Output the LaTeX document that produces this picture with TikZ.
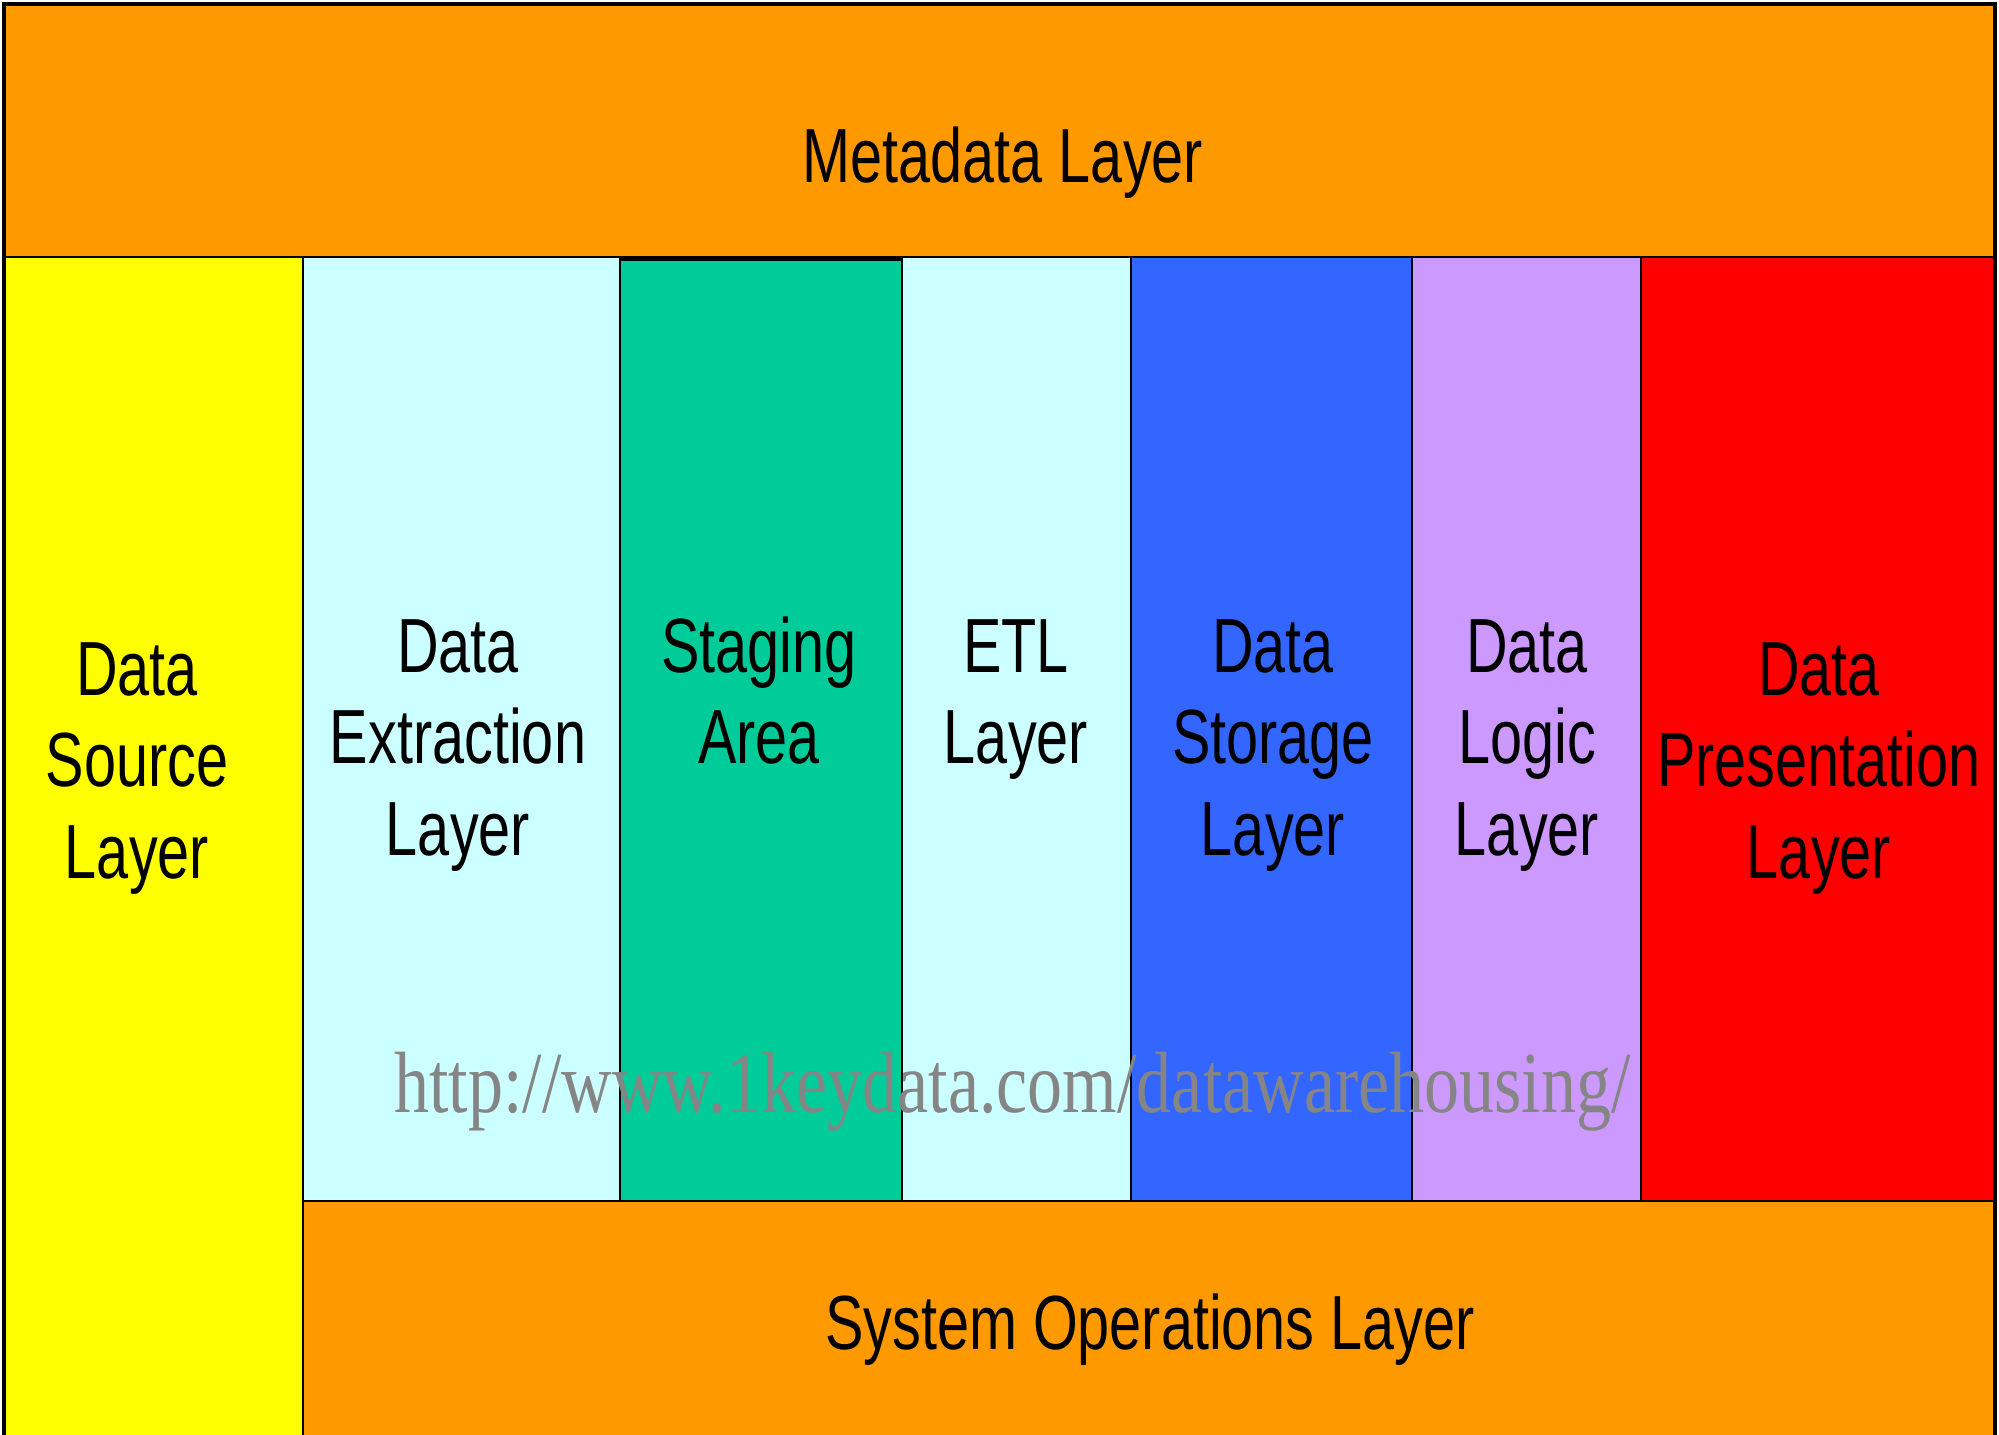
\documentclass[tikz,border=0pt]{standalone}
\usepackage{fontspec}
\setmainfont{Liberation Sans}[FakeStretch=0.75]
\newfontfamily\wmfont{Liberation Serif}[FakeStretch=0.805]
\definecolor{layorange}{HTML}{FF9900}
\definecolor{layyellow}{HTML}{FFFF00}
\definecolor{laycyan}{HTML}{CCFFFF}
\definecolor{laygreen}{HTML}{00CC99}
\definecolor{layblue}{HTML}{3366FF}
\definecolor{laypurple}{HTML}{CC99FF}
\definecolor{layred}{HTML}{FF0000}
\definecolor{wmgray}{HTML}{858585}
\begin{document}
\begin{tikzpicture}[x=0.5pt,y=-0.5pt,
  layerbox/.style={draw=black,line width=1pt},
  lbl/.style={font=\fontsize{38.4}{45.75}\selectfont, align=center, anchor=base, inner sep=0pt, text=black}]
\useasboundingbox (0,0) rectangle (1999,1435);
\fill[white] (0,0) rectangle (1999,1435);
% top metadata band
\filldraw[layerbox,fill=layorange] (4,4) rectangle (1995,257);
% columns
\filldraw[layerbox,fill=layyellow] (4,257) rectangle (303,1437);
\filldraw[layerbox,fill=laycyan] (303,257) rectangle (620,1201);
\filldraw[layerbox,fill=laygreen] (620,257) rectangle (902,1201);
\filldraw[layerbox,fill=laycyan] (902,257) rectangle (1131,1201);
\filldraw[layerbox,fill=layblue] (1131,257) rectangle (1412,1201);
\filldraw[layerbox,fill=laypurple] (1412,257) rectangle (1641,1201);
\filldraw[layerbox,fill=layred] (1641,257) rectangle (1995,1201);
\draw[line width=2pt] (620,259) -- (902,259);
% bottom system operations band
\filldraw[layerbox,fill=layorange] (303,1201) rectangle (1995,1437);
% outer border
\draw[line width=2pt] (4,1437) -- (4,4) -- (1995,4) -- (1995,1437);
% watermark
\node[anchor=base west, inner sep=0pt, text=wmgray, font=\wmfont\fontsize{43.5}{50}\selectfont] (wm) at (394,1112) {http://www.1keydata.com/datawarehousing/};
% labels (base anchor = baseline of last line)
\node[lbl] (meta) at (1003,182) {Metadata Layer};
\node[lbl] (src) at (137,878) {Data\\Source\\Layer};
\node[lbl] (extr) at (458,855) {Data\\Extraction\\Layer};
\node[lbl] (stag) at (759,763.5) {Staging\\Area};
\node[lbl] (etl) at (1016,763.5) {ETL\\Layer};
\node[lbl] (stor) at (1273,855) {Data\\Storage\\Layer};
\node[lbl] (logic) at (1527,855) {Data\\Logic\\Layer};
\node[lbl] (pres) at (1819,878) {Data\\Presentation\\Layer};
\node[lbl] (sysop) at (1150,1349) {System Operations Layer};
\end{tikzpicture}
\end{document}
